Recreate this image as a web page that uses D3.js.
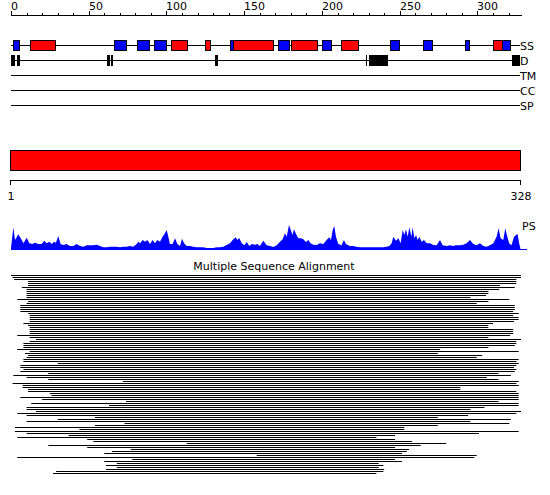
<!DOCTYPE html>
<html>
<head>
<meta charset="utf-8">
<script src="https://cdn.jsdelivr.net/npm/d3@7"></script>
<style>
  body { margin: 0; background: #fff; }
  svg text { font-family: "DejaVu Sans", sans-serif; font-size: 11px; fill: #000; }
</style>
</head>
<body>
<div id="chart"></div>
<script>
// sequence length and axis ticks
const seqLength = 328;
const topTicks = [0, 10, 20, 30, 40, 50, 60, 70, 80, 90, 100, 110, 120, 130, 140, 150, 160,
    170, 180, 190, 200, 210, 220, 230, 240, 250, 260, 270, 280, 290, 300, 310, 320];
const topLabels = [0, 50, 100, 150, 200, 250, 300];
const domainLabels = [1, 328];

// feature tracks
const trackNames = ["SS", "D", "TM", "CC", "SP"];

// secondary structure: [start, end, type]  H = helix (red), E = strand (blue)
const ssStart = [1.5, 12.5, 66.5, 81, 92, 103, 125, 141, 143, 172, 180, 200, 212.5, 243.5, 265, 292, 310, 315.5];
const ssEnd   = [5.5, 28.5, 74, 88.5, 99.5, 113.5, 128, 143, 168.5, 179, 196.5, 205.5, 223.5, 249.5, 270.5, 294.5, 315.5, 320.5];
const ssType  = ["E", "H", "E", "E", "E", "H", "H", "E", "H", "E", "H", "E", "H", "E", "E", "E", "H", "E"];

// disorder regions
const disStart = [0, 3.9, 61.7, 64.3, 131.4, 228.3, 230.2, 322.4];
const disEnd   = [2.4, 5.8, 63.5, 65.6, 133.5, 229.1, 242.2, 327.5];

// PS profile
const psPos = [0, 1.5, 2.6, 4.7, 6.9, 8, 10.1, 11.8, 13.7, 15.4, 17.6, 19.7, 21.4, 22.9, 24.7, 26.2, 27.7, 28.9,
    30.4, 31.9, 33.7, 35.8, 37.9, 40.1, 42.2, 44.4, 46.5, 48.7, 50.8, 52.9, 55.1, 57.2, 59.4, 61.5, 63.7, 65.8,
    68, 70.1, 72.2, 74.4, 76.5, 78.7, 80.8, 81.9, 83, 84.7, 86.2, 87.7, 89.4, 91.1, 92.6, 94.1, 95.8, 97.5, 99,
    100.1, 101.2, 102.2, 103.9, 105.5, 107, 108.7, 110, 111.3, 113, 115.1, 117.3, 119.4, 121.5, 123.7, 125.8,
    128, 130.1, 132.3, 134.4, 136.5, 138.7, 140.8, 143, 144.5, 145.6, 146.8, 148.4, 150.1, 151.6, 153.3, 154.8,
    157, 158.4, 160.1, 162.3, 164.4, 166.6, 168.7, 170.9, 173, 174.7, 176.2, 177.3, 178.8, 179.9, 181.1, 182,
    183.3, 184.8, 186.3, 188, 189.7, 191.2, 192.7, 194.4, 196.6, 198.7, 200.9, 203, 204.7, 205.8, 206.9, 207.9,
    209, 210.5, 212.6, 214.1, 215.4, 217.9, 220.1, 222.2, 224.4, 226.5, 228.7, 230.9, 233, 235.2, 237.3, 239.4,
    241.6, 243.3, 244.8, 245.9, 247.6, 249.1, 250.6, 251.9, 253, 254, 255.1, 256.2, 257.5, 258.3, 259.4, 260.5,
    261.5, 262.6, 264.1, 265.6, 267.3, 269.5, 271.6, 273.7, 275.9, 277.6, 280.2, 282.3, 284, 286.2, 288.8,
    290.9, 293, 295.2, 297.3, 299.5, 301.6, 303.8, 305.9, 308, 310.2, 312.3, 313.6, 314.9, 316.6, 317.9, 319.2,
    320.4, 321.9, 323.4, 324.7, 325.8, 326.8, 327.7];
const psVal = [2, 22.7, 10, 15.7, 10, 6.7, 12.3, 6.7, 6, 7.3, 6, 6, 9.3, 6.7, 8.3, 6, 8.3, 7.3,
    14, 6, 5, 6, 4, 4, 6, 4, 3.3, 4.7, 4.7, 4.7, 5.3, 4, 2.7, 2.7, 3.3, 3.3,
    3.3, 2.7, 3.3, 3.3, 4, 3.3, 6, 8.3, 6.7, 10, 8.3, 10, 6, 10, 6.7, 10, 8.3, 13.3, 16.7,
    20, 13.3, 6, 6, 11.7, 6, 4, 11.3, 6.7, 4, 4, 3.3, 2.7, 2.7, 2.7, 2,
    2, 2, 2.7, 2.7, 3.3, 5, 6.7, 10.7, 12.7, 10, 12, 6.7, 4.7, 8, 4, 6,
    5.3, 6, 4, 9.3, 4.7, 4, 3, 4.7, 8.3, 10.7, 16.7, 13.3, 25, 20, 15, 20.7,
    16, 11.7, 11.7, 10.7, 8, 10, 6.7, 5.3, 5, 6.7, 6, 10, 12.7, 10, 20, 24,
    13.3, 6, 4.7, 10, 6, 4, 4, 3.3, 2.7, 2.7, 2.7, 2.7, 2.7, 2.7, 2.7, 2.7,
    3.3, 4, 6.7, 13.3, 9.3, 11.7, 6.7, 20, 15, 20.7, 13.3, 22.7, 13.3, 22.7, 11.7, 15,
    10, 13.3, 8.3, 10, 6.7, 6.7, 5, 4.7, 10, 4.7, 4, 4.7, 4, 4.7, 4.7,
    5.3, 6.7, 10, 6, 4.7, 6.7, 4, 3.3, 4.7, 6.7, 13.3, 21.7, 11.7, 10, 21.7, 13.3,
    6.7, 4.7, 12.7, 15, 16, 6.7, 1];

// multiple sequence alignment hits: aligned start / end residue
const msaStart = [0, 1, 2, 11, 11, 11, 7, 10, 10, 10, 10, 10, 4, 11, 10, 6, 6, 6, 6, 11,
    12, 12, 12, 12, 8, 11, 12, 12, 12, 12, 4, 12, 16, 12, 8, 8, 8, 4, 12, 9,
    11, 10, 8, 8, 30, 6, 6, 8, 6, 24, 1.5, 10, 24, 72, 1, 7.5, 7.5, 11, 11, 25,
    26, 6, 20, 74, 13, 63, 10, 10, 16, 4, 10, 54, 30, 10, 73, 54, 2.5, 44, 2.5, 10,
    37, 4, 49, 53, 113, 24, 49, 77, 65, 60, 158, 4, 78, 60, 68, 61, 68, 61, 29, 27];
const msaEnd = [328, 328, 325, 325, 325, 314.5, 324, 314, 307, 307, 305.5, 295.5, 320.5, 307, 299.5, 324, 324, 324, 323, 326.5,
    323, 326.5, 326.5, 323.5, 310, 307, 307, 323, 323, 323, 321, 307, 328, 325, 325, 324, 307, 276, 326.5, 274.5,
    303, 299.5, 326.5, 325, 326.5, 325, 323.5, 325, 324, 313.5, 321.5, 306, 313.5, 326.5, 325, 326.5, 289, 289, 325, 326.5,
    326.5, 326.5, 326.5, 313.5, 326.5, 326.5, 304.5, 295.5, 328, 325, 294, 274.5, 321.5, 295.5, 320.5, 274.5, 253, 253, 326.5, 301,
    247, 235, 247, 258, 280, 263.5, 247, 256, 254.5, 251.5, 299.5, 298, 247, 251.5, 236.5, 239.5, 236.5, 240, 239.5, 235];

const width = 550, height = 495;

const svg = d3.select("#chart")
    .append("svg")
    .attr("width", width)
    .attr("height", height);

// residue scale
const x = d3.scaleLinear().domain([0, seqLength]).range([11, 521]);

// top ruler
const ruler = svg.append("g");
ruler.append("line")
    .attr("x1", x(0)).attr("x2", x(seqLength) + 1)
    .attr("y1", 15.5).attr("y2", 15.5)
    .attr("stroke", "#000");
ruler.selectAll("line.tick")
    .data(topTicks)
    .enter()
    .append("line")
    .attr("class", "tick")
    .attr("x1", d => Math.round(x(d)) + 0.5)
    .attr("x2", d => Math.round(x(d)) + 0.5)
    .attr("y1", d => topLabels.includes(d) ? 11 : 13)
    .attr("y2", 16)
    .attr("stroke", "#000");
ruler.selectAll("text")
    .data(topLabels)
    .enter()
    .append("text")
    .attr("x", d => Math.round(x(d)))
    .attr("y", 10)
    .text(d => d);

// feature tracks
const trackY = d3.scalePoint().domain(trackNames).range([45.5, 105.5]);

svg.selectAll("line.track")
    .data(trackNames)
    .enter()
    .append("line")
    .attr("class", "track")
    .attr("x1", x(0)).attr("x2", x(seqLength) - 1)
    .attr("y1", d => trackY(d)).attr("y2", d => trackY(d))
    .attr("stroke", "#000");

svg.selectAll("text.track-label")
    .data(trackNames)
    .enter()
    .append("text")
    .attr("class", "track-label")
    .attr("x", x(seqLength) - 1)
    .attr("y", d => trackY(d) + 4.5)
    .text(d => d);

// secondary structure boxes
const ssData = ssStart.map((s, i) => ({ start: s, end: ssEnd[i], type: ssType[i] }));
svg.selectAll("rect.ss")
    .data(ssData)
    .enter()
    .append("rect")
    .attr("class", "ss")
    .attr("x", d => Math.round(x(d.start)) + 0.5)
    .attr("width", d => Math.max(1, Math.round(x(d.end) - x(d.start))))
    .attr("y", trackY("SS") - 5)
    .attr("height", 10)
    .attr("fill", d => d.type === "H" ? "#ff0000" : "#0000ff")
    .attr("stroke", "#000")
    .attr("stroke-width", 1);

// disorder boxes
const disData = disStart.map((s, i) => ({ start: s, end: disEnd[i] }));
svg.selectAll("rect.dis")
    .data(disData)
    .enter()
    .append("rect")
    .attr("class", "dis")
    .attr("x", d => Math.round(x(d.start)))
    .attr("width", d => Math.max(1, Math.round(x(d.end) - x(d.start))))
    .attr("y", trackY("D") - 5.5)
    .attr("height", 11)
    .attr("fill", "#000");

// domain bar
svg.append("rect")
    .attr("x", x(0) - 0.5)
    .attr("y", 150.5)
    .attr("width", x(seqLength) - x(0))
    .attr("height", 20)
    .attr("fill", "#ff0000")
    .attr("stroke", "#000");

// domain ruler
const xd = d3.scaleLinear().domain([1, seqLength]).range([11, 521]);
svg.append("line")
    .attr("x1", xd(1)).attr("x2", xd(seqLength))
    .attr("y1", 180.5).attr("y2", 180.5)
    .attr("stroke", "#000");
svg.selectAll("line.dtick")
    .data(domainLabels)
    .enter()
    .append("line")
    .attr("class", "dtick")
    .attr("x1", d => xd(d) - 0.5).attr("x2", d => xd(d) - 0.5)
    .attr("y1", 180).attr("y2", 185)
    .attr("stroke", "#000");
svg.selectAll("text.dlabel")
    .data(domainLabels)
    .enter()
    .append("text")
    .attr("class", "dlabel")
    .attr("x", d => xd(d))
    .attr("y", 200)
    .attr("text-anchor", "middle")
    .text(d => d);

// PS profile
const yPs = d3.scaleLinear().domain([0, 25]).range([250, 225]);
const psData = psPos.map((p, i) => ({ pos: p, val: psVal[i] }));
svg.append("path")
    .datum(psData)
    .attr("fill", "#0000ff")
    .attr("d", d3.area()
        .x(d => x(d.pos))
        .y0(yPs(0))
        .y1(d => yPs(d.val)));
svg.append("rect")
    .attr("x", x(0))
    .attr("y", yPs(0) - 1)
    .attr("width", x(seqLength) - x(0) + 6)
    .attr("height", 1)
    .attr("fill", "#0000ff");
svg.append("text")
    .attr("x", x(seqLength) + 1)
    .attr("y", 230)
    .text("PS");

// multiple sequence alignment
svg.append("text")
    .attr("x", 274)
    .attr("y", 270)
    .attr("text-anchor", "middle")
    .text("Multiple Sequence Alignment");

const msaData = msaStart.map((s, i) => ({ row: i, start: s, end: msaEnd[i] }));
const yMsa = d3.scaleLinear().domain([0, msaData.length - 1]).range([275, 473]);
svg.selectAll("rect.msa")
    .data(msaData)
    .enter()
    .append("rect")
    .attr("class", "msa")
    .attr("x", d => x(d.start))
    .attr("y", d => yMsa(d.row))
    .attr("width", d => x(d.end) - x(d.start))
    .attr("height", 1)
    .attr("fill", "#000");
</script>
</body>
</html>
